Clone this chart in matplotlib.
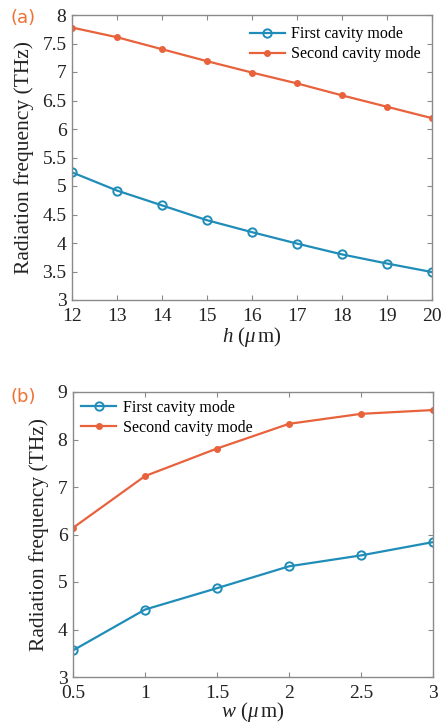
import matplotlib
matplotlib.use("Agg")
import matplotlib.pyplot as plt

h_vals = [12, 13, 14, 15, 16, 17, 18, 19, 20]
h_first = [5.24, 4.92, 4.66, 4.40, 4.19, 3.99, 3.80, 3.64, 3.49]
h_second = [7.78, 7.61, 7.40, 7.19, 6.99, 6.80, 6.59, 6.39, 6.19]

w_vals = [0.5, 1, 1.5, 2, 2.5, 3]
w_first = [3.56, 4.42, 4.87, 5.33, 5.56, 5.84]
w_second = [6.14, 7.23, 7.81, 8.33, 8.54, 8.62]

legend_labels = ["First cavity mode", "Second cavity mode"]
ylabel = "Radiation frequency (THz)"

plt.rcParams['font.family'] = ['Liberation Serif', 'DejaVu Serif']
plt.rcParams['mathtext.fontset'] = 'custom'
plt.rcParams['mathtext.rm'] = 'Liberation Serif'
plt.rcParams['mathtext.it'] = 'Liberation Serif:italic'

blue = '#1f8db8'
orange = '#e8623c'
spine_c = '#8a8a8a'
text_c = '#222222'

fig = plt.figure(figsize=(4.44, 7.28), dpi=100)
W, H = 444, 728
axa = fig.add_axes([72 / W, 1 - 300 / H, 360 / W, 285 / H])
axb = fig.add_axes([73 / W, 1 - 677 / H, 360 / W, 285 / H])

def style(ax):
    for s in ax.spines.values():
        s.set_color(spine_c)
        s.set_linewidth(1.0)
    ax.tick_params(direction='in', length=3.5, width=0.8, color=spine_c,
                   top=True, right=True, labelsize=14, labelcolor=text_c)
    ax.tick_params(axis='x', pad=6)
    ax.tick_params(axis='y', pad=4)
    ax.set_ylabel(ylabel, fontsize=15.5, labelpad=6, color=text_c)

# panel a
axa.plot(h_vals, h_first, '-o', color=blue, lw=1.6, ms=6, mfc='none', mew=1.4,
         label=legend_labels[0])
axa.plot(h_vals, h_second, '-o', color=orange, lw=1.6, ms=4, mfc=orange, mew=1,
         label=legend_labels[1])
axa.set_xlim(12, 20)
axa.set_ylim(3, 8)
axa.set_xticks(h_vals)
axa.set_yticks([3, 3.5, 4, 4.5, 5, 5.5, 6, 6.5, 7, 7.5, 8])
axa.set_yticklabels(['3', '3.5', '4', '4.5', '5', '5.5', '6', '6.5', '7', '7.5', '8'])
style(axa)
axa.set_xlabel(r"$h$ ($\mathit{\mu}\,$m)", fontsize=15, labelpad=0, color=text_c)
axa.legend(loc='upper right', frameon=False, fontsize=11.5, handlelength=2.2,
           handletextpad=0.4, borderaxespad=0.3, labelspacing=0.25)
fig.text(10 / W, 1 - 18 / H, "(a)", color='#f07033', fontsize=13,
         family='DejaVu Sans', va='center', ha='left')

# panel b
axb.plot(w_vals, w_first, '-o', color=blue, lw=1.6, ms=6, mfc='none', mew=1.4,
         label=legend_labels[0])
axb.plot(w_vals, w_second, '-o', color=orange, lw=1.6, ms=4, mfc=orange, mew=1,
         label=legend_labels[1])
axb.set_xlim(0.5, 3)
axb.set_ylim(3, 9)
axb.set_xticks(w_vals)
axb.set_xticklabels(['0.5', '1', '1.5', '2', '2.5', '3'])
axb.set_yticks([3, 4, 5, 6, 7, 8, 9])
style(axb)
axb.set_xlabel(r"$w$ ($\mathit{\mu}\,$m)", fontsize=15, labelpad=-2, color=text_c)
axb.legend(loc='upper left', frameon=False, fontsize=11.5, handlelength=2.2,
           handletextpad=0.4, borderaxespad=0.1, labelspacing=0.25)
fig.text(10 / W, 1 - 397 / H, "(b)", color='#f07033', fontsize=13,
         family='DejaVu Sans', va='center', ha='left')

fig.savefig("out.png", dpi=100)
